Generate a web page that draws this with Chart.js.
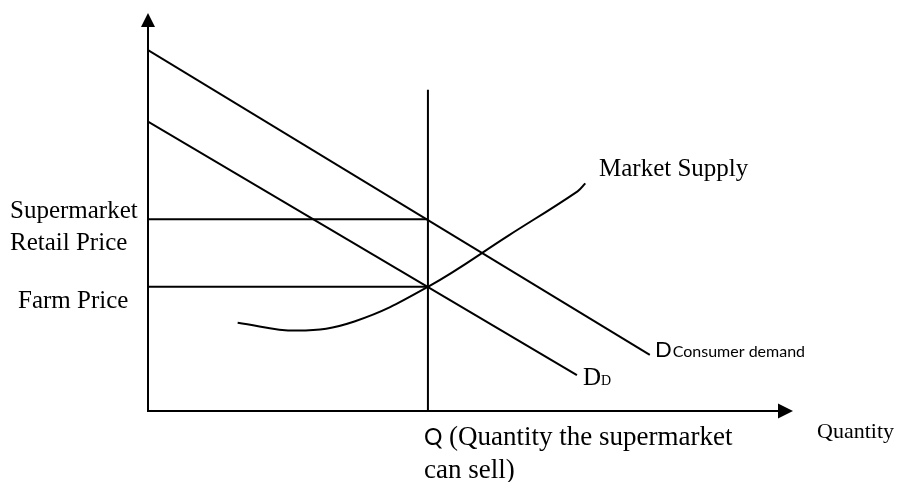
<!DOCTYPE html>
<html>
<head>
<meta charset="utf-8">
<script src="https://cdn.jsdelivr.net/npm/chart.js@4"></script>
<style>
  html, body { margin: 0; padding: 0; background: #ffffff; }
  #wrap { width: 897px; height: 482px; position: relative; }
</style>
</head>
<body>
<div id="wrap"><canvas id="c" width="897" height="482"></canvas></div>
<script>
// ---- Data (abstract units: Quantity 0-100, Price 0-100) ----
const axisMax = { quantity: 100, price: 100 };
const Q_VALUE = 43.4;          // quantity the supermarket can sell
const Q_LINE_TOP = 80.7;       // top of the vertical Q line
const RETAIL_PRICE = 48.2;     // supermarket retail price
const FARM_PRICE = 31.2;       // farm price

const consumerDemandX = [0, 77.8];
const consumerDemandY = [90.7, 14.1];

const derivedDemandX = [0, 66.5];
const derivedDemandY = [72.7, 9.0];

const supplyX = [13.9, 23.1, 32.0, 43.4, 56.0, 66.6, 67.8];
const supplyY = [22.2, 20.2, 22.5, 31.2, 44.2, 55.2, 57.2];

const toPts = (xs, ys) => xs.map((x, i) => ({ x: x, y: ys[i] }));

const lineStyle = { borderColor: '#000', borderWidth: 2, pointRadius: 0, showLine: true, fill: false, tension: 0 };

// ---- Axes with arrowheads + text labels ----
const diagramPlugin = {
  id: 'diagram',
  afterDatasetsDraw(chart) {
    const ctx = chart.ctx;
    const xs = chart.scales.x, ys = chart.scales.y;
    const x0 = xs.getPixelForValue(0), y0 = ys.getPixelForValue(0);
    const xEnd = xs.getPixelForValue(axisMax.quantity);
    const yEnd = ys.getPixelForValue(axisMax.price);
    ctx.save();
    ctx.strokeStyle = '#000';
    ctx.fillStyle = '#000';
    ctx.lineWidth = 2;
    // y axis
    ctx.beginPath(); ctx.moveTo(x0, y0 + 1); ctx.lineTo(x0, yEnd + 10); ctx.stroke();
    ctx.beginPath(); ctx.moveTo(x0, yEnd); ctx.lineTo(x0 - 7, yEnd + 14); ctx.lineTo(x0 + 7, yEnd + 14); ctx.closePath(); ctx.fill();
    // x axis
    ctx.beginPath(); ctx.moveTo(x0 - 1, y0); ctx.lineTo(xEnd - 10, y0); ctx.stroke();
    ctx.beginPath(); ctx.moveTo(xEnd, y0); ctx.lineTo(xEnd - 15, y0 - 7.5); ctx.lineTo(xEnd - 15, y0 + 7.5); ctx.closePath(); ctx.fill();

    // labels
    const serif = '"Liberation Serif", "Times New Roman", serif';
    const sans = 'Lato, "Liberation Sans", sans-serif';
    ctx.textBaseline = 'alphabetic';
    ctx.textAlign = 'left';
    const put = (txt, x, y, size, fam) => { ctx.font = size + 'px ' + fam; ctx.fillText(txt, x, y); return ctx.measureText(txt).width; };

    const yRetail = ys.getPixelForValue(RETAIL_PRICE);
    const yFarm = ys.getPixelForValue(FARM_PRICE);
    put('Supermarket', 10, yRetail - 1, 25, serif);
    put('Retail Price', 10, yRetail + 31, 25, serif);
    put('Farm Price', 18, yFarm + 21, 25, serif);

    put('Market Supply', 599, 176, 25, serif);

    // D_D label
    let w = put('D', 583, 385, 25, serif);
    put('D', 583 + w, 385, 14, serif);

    // D Consumer demand label
    w = put('D', 655, 357, 22, sans);
    put('Consumer demand', 655 + w + 1, 357, 16, sans);

    // Q label
    const xQ = xs.getPixelForValue(Q_VALUE);
    w = put('Q', xQ - 4, y0 + 34, 23, sans);
    put(' (Quantity the supermarket', xQ - 4 + w, y0 + 34, 27, serif);
    put('can sell)', xQ - 4, y0 + 67, 27, serif);

    put('Quantity', 817, y0 + 27, 22, serif);
    ctx.restore();
  }
};

new Chart(document.getElementById('c'), {
  type: 'scatter',
  data: {
    datasets: [
      Object.assign({ label: 'Consumer demand', data: toPts(consumerDemandX, consumerDemandY) }, lineStyle),
      Object.assign({ label: 'Derived demand', data: toPts(derivedDemandX, derivedDemandY) }, lineStyle),
      Object.assign({}, lineStyle, { label: 'Market Supply', data: toPts(supplyX, supplyY), tension: 0.4 }),
      Object.assign({ label: 'Q', data: [{ x: Q_VALUE, y: 0 }, { x: Q_VALUE, y: Q_LINE_TOP }] }, lineStyle),
      Object.assign({ label: 'Retail', data: [{ x: 0, y: RETAIL_PRICE }, { x: Q_VALUE, y: RETAIL_PRICE }] }, lineStyle),
      Object.assign({ label: 'Farm', data: [{ x: 0, y: FARM_PRICE }, { x: Q_VALUE, y: FARM_PRICE }] }, lineStyle)
    ]
  },
  options: {
    responsive: false,
    animation: false,
    layout: { padding: { left: 148, right: 104, top: 13, bottom: 71 } },
    plugins: { legend: { display: false }, tooltip: { enabled: false } },
    scales: {
      x: { type: 'linear', display: false, min: 0, max: axisMax.quantity },
      y: { type: 'linear', display: false, min: 0, max: axisMax.price }
    }
  },
  plugins: [diagramPlugin]
});
</script>
</body>
</html>
